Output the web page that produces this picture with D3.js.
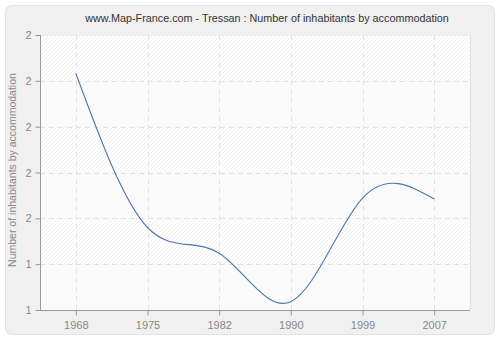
<!DOCTYPE html>
<html><head><meta charset="utf-8">
<script src="https://cdn.jsdelivr.net/npm/d3@7"></script>
<style>body{margin:0;background:#fff;}svg{display:block;}</style>
</head><body>
<svg id="c" width="500" height="340"></svg>
<script>
const title = "www.Map-France.com - Tressan : Number of inhabitants by accommodation";
const yTitle = "Number of inhabitants by accommodation";
const years = ["1968","1975","1982","1990","1999","2007"];
const values = [2.29, 1.45, 1.31, 1.045, 1.61, 1.605];
const yTicks = [1, 1.25, 1.5, 1.75, 2, 2.25, 2.5];
const yTickLabels = ["1","1","2","2","2","2","2"];

const svg = d3.select("#c");
const font = "'Liberation Sans', Arial, sans-serif";
const L = 40, R = 470, T = 35, B = 310;

const defs = svg.append("defs");
const pat = defs.append("pattern").attr("id","hatch").attr("patternUnits","userSpaceOnUse")
  .attr("width",4).attr("height",4);
pat.append("rect").attr("width",4).attr("height",4).attr("fill","#ffffff");
pat.append("path").attr("d","M-1,1 L1,-1 M0,4 L4,0 M3,5 L5,3").attr("stroke","#ececec").attr("stroke-width",0.8);

svg.append("rect").attr("x",5.5).attr("y",5.5).attr("width",489).attr("height",329)
  .attr("rx",6).attr("fill","#f0f0f0").attr("stroke","#e2e2e2");

const x = d3.scalePoint().domain(years).range([L, R]).padding(0.5);
const y = d3.scaleLinear().domain([1, 2.5]).range([B, T]);

// bands
for (let i = 0; i < yTicks.length - 1; i++) {
  svg.append("rect").attr("x", L).attr("width", R - L)
    .attr("y", y(yTicks[i+1])).attr("height", y(yTicks[i]) - y(yTicks[i+1]))
    .attr("fill", i % 2 === 0 ? "#fafafa" : "url(#hatch)");
}
svg.append("line").attr("x1",R+0.5).attr("x2",R+0.5).attr("y1",T).attr("y2",B).attr("stroke","#e0e0e0");
svg.append("line").attr("x1",L).attr("x2",R).attr("y1",T+0.5).attr("y2",T+0.5).attr("stroke","#eeeeee");

// grid
const g = svg.append("g");
g.selectAll(".hg").data(yTicks.slice(1,-1)).join("line")
  .attr("x1",L).attr("x2",R).attr("y1",d=>Math.round(y(d))+0.5).attr("y2",d=>Math.round(y(d))+0.5)
  .attr("stroke","#e2e2e2").attr("stroke-dasharray","5,4");
g.selectAll(".vg").data(years).join("line")
  .attr("x1",d=>Math.round(x(d))+0.5).attr("x2",d=>Math.round(x(d))+0.5).attr("y1",T).attr("y2",B)
  .attr("stroke","#e2e2e2").attr("stroke-dasharray","5,4");

// axes
const yAxis = d3.axisLeft(y).tickValues(yTicks).tickSize(5).tickPadding(4)
  .tickFormat((d,i)=>yTickLabels[i]);
const ya = svg.append("g").attr("transform",`translate(${L+0.5},0)`).call(yAxis);
const xAxis = d3.axisBottom(x).tickSize(5).tickPadding(6);
const xa = svg.append("g").attr("transform",`translate(0,${B+0.5})`).call(xAxis);
[ya, xa].forEach(a => {
  a.select(".domain").attr("stroke","#999");
  a.selectAll(".tick line").attr("stroke","#999");
  a.selectAll("text").attr("fill","#888").style("font-family",font).style("font-size","11px");
});
xa.select(".domain").attr("d",`M${L},0H${R}`);
ya.select(".domain").attr("d",`M0,${T}V${B}`);

// line
const line = d3.line().x((d,i)=>x(years[i])).y(d=>y(d)).curve(d3.curveNatural);
svg.append("path").datum(values).attr("d",line).attr("fill","none")
  .attr("stroke","#4a78b0").attr("stroke-width",1.1);

// titles
svg.append("text").attr("x",267).attr("y",22).attr("text-anchor","middle")
  .style("font-family",font).style("font-size","10.8px").attr("fill","#333").text(title);
svg.append("text").attr("transform",`translate(16,170) rotate(-90)`).attr("text-anchor","middle")
  .style("font-family",font).style("font-size","10.5px").attr("fill","#888").text(yTitle);
</script>
</body></html>
